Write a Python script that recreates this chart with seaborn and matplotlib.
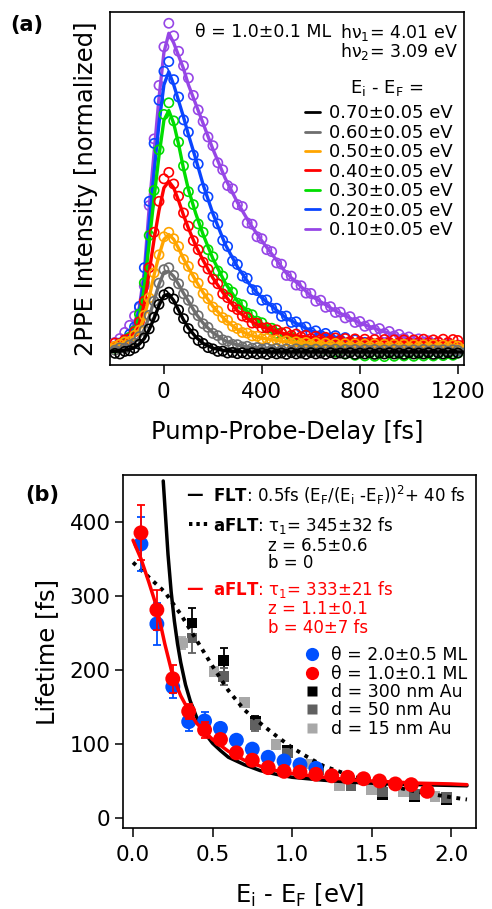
import matplotlib
matplotlib.use("Agg")
import matplotlib.pyplot as plt
from matplotlib.lines import Line2D
import seaborn as sns

# ======================= (a) 2PPE traces =======================
# pump-probe delays of the measured points (fs)
delay = list(range(-200, 1201, 20))
# delays at which the fit curves are drawn (fs)
delay_fit = [-220, -180, -140, -120, -100, -80, -60, -40, -20, 0, 20, 40, 60, 80,
             100, 130, 160, 200, 250, 300, 350, 400, 500, 600, 700, 800, 900,
             1000, 1100, 1225]

# measured intensities (normalized), one list per intermediate state energy
pts_010 = [0.030, 0.042, 0.061, 0.083, 0.112, 0.138, 0.205, 0.455, 0.662, 0.828,
           0.948, 1.021, 0.982, 0.934, 0.889, 0.851, 0.797, 0.752, 0.716, 0.668,
           0.641, 0.588, 0.566, 0.517, 0.507, 0.458, 0.452, 0.401, 0.397, 0.358,
           0.352, 0.318, 0.312, 0.277, 0.273, 0.238, 0.236, 0.208, 0.206, 0.183,
           0.182, 0.158, 0.161, 0.139, 0.141, 0.123, 0.124, 0.106, 0.110, 0.092,
           0.095, 0.080, 0.084, 0.069, 0.073, 0.058, 0.064, 0.050, 0.055, 0.043,
           0.047, 0.035, 0.041, 0.031, 0.035, 0.026, 0.031, 0.022, 0.026, 0.019,
           0.022]
pts_020 = [0.018, 0.028, 0.033, 0.055, 0.078, 0.142, 0.262, 0.468, 0.648, 0.782,
           0.872, 0.902, 0.846, 0.792, 0.721, 0.683, 0.612, 0.584, 0.508, 0.482,
           0.421, 0.398, 0.347, 0.328, 0.283, 0.272, 0.236, 0.229, 0.194, 0.191,
           0.161, 0.162, 0.136, 0.136, 0.111, 0.112, 0.092, 0.094, 0.076, 0.078,
           0.061, 0.066, 0.052, 0.058, 0.044, 0.051, 0.038, 0.045, 0.032, 0.038,
           0.026, 0.030, 0.018, 0.025, 0.012, 0.022, 0.008, 0.016, 0.004, 0.014,
           0.002, 0.012, -0.002, 0.010, 0.001, 0.012, -0.003, 0.011, 0.002, 0.012,
           0.004]
pts_030 = [0.012, 0.022, 0.028, 0.046, 0.066, 0.118, 0.215, 0.362, 0.502, 0.628,
           0.738, 0.774, 0.718, 0.652, 0.578, 0.498, 0.458, 0.398, 0.372, 0.318,
           0.296, 0.252, 0.236, 0.198, 0.186, 0.152, 0.147, 0.121, 0.116, 0.096,
           0.091, 0.074, 0.074, 0.058, 0.060, 0.044, 0.046, 0.034, 0.036, 0.024,
           0.026, 0.014, 0.017, 0.006, 0.010, 0.000, 0.006, -0.006, 0.002, -0.010,
           -0.002, -0.012, -0.004, -0.013, -0.005, -0.014, -0.004, -0.013, -0.005, -0.012,
           -0.004, -0.013, -0.005, -0.012, -0.004, -0.012, -0.003, -0.011, -0.004, -0.010,
           -0.003]
pts_040 = [0.028, 0.026, 0.038, 0.042, 0.063, 0.094, 0.158, 0.262, 0.372, 0.468,
           0.538, 0.558, 0.522, 0.484, 0.432, 0.391, 0.346, 0.318, 0.279, 0.258,
           0.226, 0.212, 0.181, 0.169, 0.141, 0.132, 0.112, 0.108, 0.090, 0.090,
           0.075, 0.076, 0.066, 0.069, 0.059, 0.062, 0.052, 0.056, 0.047, 0.052,
           0.042, 0.049, 0.039, 0.046, 0.036, 0.044, 0.035, 0.042, 0.033, 0.041,
           0.032, 0.040, 0.031, 0.039, 0.030, 0.039, 0.030, 0.038, 0.030, 0.038,
           0.029, 0.038, 0.030, 0.040, 0.029, 0.038, 0.031, 0.040, 0.030, 0.039,
           0.036]
pts_050 = [0.018, 0.024, 0.032, 0.033, 0.052, 0.068, 0.114, 0.168, 0.246, 0.302,
           0.358, 0.372, 0.352, 0.328, 0.288, 0.266, 0.232, 0.214, 0.182, 0.166,
           0.140, 0.128, 0.107, 0.099, 0.080, 0.073, 0.061, 0.059, 0.050, 0.049,
           0.041, 0.042, 0.036, 0.038, 0.031, 0.035, 0.028, 0.032, 0.025, 0.030,
           0.023, 0.029, 0.021, 0.028, 0.020, 0.027, 0.019, 0.026, 0.018, 0.026,
           0.017, 0.025, 0.017, 0.025, 0.016, 0.024, 0.016, 0.024, 0.016, 0.024,
           0.015, 0.023, 0.016, 0.023, 0.015, 0.023, 0.015, 0.022, 0.016, 0.022,
           0.018]
pts_060 = [0.006, 0.013, 0.012, 0.022, 0.028, 0.048, 0.068, 0.114, 0.158, 0.214,
           0.256, 0.262, 0.238, 0.212, 0.181, 0.161, 0.131, 0.113, 0.088, 0.077,
           0.058, 0.051, 0.038, 0.034, 0.024, 0.023, 0.016, 0.018, 0.012, 0.014,
           0.009, 0.012, 0.007, 0.011, 0.006, 0.010, 0.005, 0.010, 0.004, 0.009,
           0.004, 0.009, 0.003, 0.008, 0.004, 0.009, 0.003, 0.008, 0.004, 0.008,
           0.003, 0.008, 0.004, 0.008, 0.003, 0.007, 0.003, 0.008, 0.004, 0.007,
           0.003, 0.007, 0.003, 0.008, 0.003, 0.007, 0.004, 0.007, 0.003, 0.007,
           0.005]
pts_070 = [-0.004, -0.006, 0.002, 0.004, 0.012, 0.024, 0.044, 0.072, 0.108, 0.148,
           0.178, 0.186, 0.165, 0.131, 0.104, 0.073, 0.056, 0.036, 0.027, 0.014,
           0.010, 0.002, 0.003, -0.003, -0.001, -0.005, -0.002, -0.006, -0.002, -0.006,
           -0.003, -0.007, -0.002, -0.006, -0.003, -0.007, -0.002, -0.006, -0.003, -0.007,
           -0.002, -0.006, -0.003, -0.007, -0.002, -0.006, -0.003, -0.006, -0.002, -0.007,
           -0.003, -0.006, -0.002, -0.007, -0.003, -0.006, -0.002, -0.006, -0.003, -0.007,
           -0.002, -0.006, -0.003, -0.006, -0.002, -0.007, -0.003, -0.006, -0.002, -0.006,
           -0.003]

# fitted curves
fit_010 = [0.02, 0.03, 0.06, 0.09, 0.14, 0.25, 0.45, 0.62, 0.79, 0.93, 0.99, 0.96, 0.92, 0.88,
           0.83, 0.77, 0.71, 0.63, 0.54, 0.465, 0.40, 0.345, 0.245, 0.175, 0.128, 0.09, 0.063,
           0.042, 0.03, 0.02]
fit_020 = [0.02, 0.025, 0.05, 0.08, 0.13, 0.23, 0.40, 0.56, 0.71, 0.83, 0.87, 0.83, 0.78, 0.73,
           0.675, 0.60, 0.52, 0.43, 0.335, 0.265, 0.21, 0.168, 0.105, 0.066, 0.046, 0.032, 0.018,
           0.012, 0.01, 0.008]
fit_030 = [0.015, 0.02, 0.04, 0.07, 0.11, 0.20, 0.34, 0.48, 0.61, 0.72, 0.75, 0.71, 0.645, 0.57,
           0.505, 0.43, 0.365, 0.29, 0.215, 0.158, 0.118, 0.088, 0.05, 0.028, 0.016, 0.01, 0.007,
           0.006, 0.006, 0.006]
fit_040 = [0.025, 0.03, 0.04, 0.06, 0.09, 0.15, 0.25, 0.35, 0.44, 0.51, 0.53, 0.51, 0.47, 0.425,
           0.385, 0.33, 0.285, 0.23, 0.175, 0.128, 0.098, 0.078, 0.055, 0.045, 0.04, 0.037, 0.035,
           0.033, 0.032, 0.031]
fit_050 = [0.02, 0.025, 0.035, 0.05, 0.07, 0.11, 0.17, 0.24, 0.30, 0.35, 0.365, 0.35, 0.322, 0.29,
           0.262, 0.222, 0.185, 0.142, 0.10, 0.07, 0.053, 0.043, 0.032, 0.027, 0.024, 0.022, 0.021,
           0.02, 0.02, 0.019]
fit_060 = [0.01, 0.012, 0.02, 0.03, 0.045, 0.07, 0.11, 0.16, 0.21, 0.248, 0.25, 0.235, 0.21, 0.183,
           0.158, 0.12, 0.09, 0.06, 0.035, 0.022, 0.015, 0.012, 0.009, 0.008, 0.007, 0.007, 0.006,
           0.006, 0.006, 0.006]
fit_070 = [0.002, 0.003, 0.008, 0.014, 0.025, 0.042, 0.07, 0.105, 0.145, 0.175, 0.18, 0.16, 0.13,
           0.10, 0.075, 0.047, 0.027, 0.012, 0.004, 0.001, 0.0, 0.0, 0.0, 0.0, 0.0, 0.0, 0.0,
           0.0, 0.0, 0.0]

labels_a = ["0.70±0.05 eV", "0.60±0.05 eV", "0.50±0.05 eV", "0.40±0.05 eV",
            "0.30±0.05 eV", "0.20±0.05 eV", "0.10±0.05 eV"]
colors_a = ["#000000", "#6e6e6e", "#ffa500", "#ff0000", "#00dd00", "#0a45ff", "#9646e6"]

# ======================= (b) lifetimes =======================
e_ml1 = [0.05, 0.15, 0.25, 0.35, 0.45, 0.55, 0.65, 0.75, 0.85, 0.95, 1.05, 1.15, 1.25, 1.35,
         1.45, 1.55, 1.65, 1.75, 1.85]
tau_ml1 = [385, 281, 188, 144, 119, 106, 88, 78, 68, 63, 62, 59, 57, 55, 53, 50, 46, 45, 36]
err_ml1 = [37, 27, 19, 10, 11, 5, 4, 4, 3, 3, 3, 3, 3, 3, 3, 3, 3, 3, 3]

e_ml2 = [0.05, 0.15, 0.25, 0.35, 0.45, 0.55, 0.65, 0.75, 0.85, 0.95, 1.05, 1.15]
tau_ml2 = [370, 262, 177, 130, 131, 121, 105, 93, 82, 77, 72, 67]
err_ml2 = [36, 28, 15, 12, 12, 5, 4, 4, 3, 3, 3, 3]

e_300 = [0.37, 0.57, 0.77, 0.97, 1.17, 1.37, 1.57, 1.77, 1.97]
tau_300 = [263, 213, 130, 92, 66, 47, 31, 29, 25]
err_300 = [21, 16, 8, 5, 4, 3, 3, 3, 3]
e_50 = [0.37, 0.57, 0.77, 0.97, 1.17, 1.37, 1.57, 1.77, 1.97]
tau_50 = [243, 191, 126, 88, 65, 44, 35, 32, 28]
err_50 = [20, 12, 8, 5, 4, 3, 3, 3, 3]
e_15 = [0.31, 0.51, 0.70, 0.90, 1.10, 1.30, 1.50, 1.70, 1.90]
tau_15 = [236, 198, 156, 99, 73, 44, 38, 35, 29]
err_15 = [8, 6, 5, 4, 3, 3, 3, 3, 3]

# FLT curve (solid black)
flt_e = [0.19, 0.20, 0.22, 0.24, 0.26, 0.28, 0.30, 0.33, 0.36, 0.40, 0.45, 0.50, 0.55, 0.60,
         0.70, 0.80, 0.90, 1.00, 1.20, 1.40, 1.60, 1.80, 2.00, 2.10]
flt_tau = [455, 422, 356, 305, 266, 235, 210, 180, 158, 136, 115, 101, 91, 82, 72, 64, 59, 55,
           51, 48, 46, 45, 44, 43.5]
# aFLT with b = 0 (dotted black)
aflt0_e = [0.0, 0.1, 0.2, 0.3, 0.4, 0.5, 0.6, 0.7, 0.8, 0.9, 1.0, 1.1, 1.2, 1.4, 1.6, 1.8,
           2.0, 2.1]
aflt0_tau = [345, 325, 305, 275, 240, 205, 172, 146, 128, 111, 95, 82, 70, 55, 44, 35, 28, 25]
# aFLT with b = 40 fs (solid red)
aflt40_e = [0.0, 0.05, 0.1, 0.15, 0.2, 0.25, 0.3, 0.35, 0.4, 0.5, 0.6, 0.7, 0.8, 0.9, 1.0,
            1.2, 1.4, 1.6, 1.8, 2.0, 2.1]
aflt40_tau = [375, 350, 318, 284, 235, 192, 165, 145, 128, 106, 90, 78, 70, 64, 60, 55, 51,
              49, 47, 46, 45]

blue_b = "#0050ff"
red_b = "#ff0000"
dgray_b = "#606060"
lgray_b = "#a8a8a8"

# ------------------------------------------------------------------
sns.set_style("ticks")
plt.rcParams["font.family"] = ["DejaVu Sans"]
plt.rcParams["mathtext.fontset"] = "dejavusans"
plt.rcParams["axes.linewidth"] = 1.2
plt.rcParams["axes.edgecolor"] = "black"
plt.rcParams["text.color"] = "black"
plt.rcParams["axes.labelcolor"] = "black"
plt.rcParams["xtick.color"] = "black"
plt.rcParams["ytick.color"] = "black"

fig = plt.figure(figsize=(4.92, 9.09), dpi=100)
ax_a = fig.add_axes([0.2236, 0.5985, 0.7195, 0.3883])
ax_b = fig.add_axes([0.25, 0.0891, 0.7175, 0.3883])

# ---- panel (a)
pts_all = [pts_070, pts_060, pts_050, pts_040, pts_030, pts_020, pts_010]
fit_all = [fit_070, fit_060, fit_050, fit_040, fit_030, fit_020, fit_010]
for i in range(6, -1, -1):
    z = 10 - i
    sns.scatterplot(x=delay, y=pts_all[i], ax=ax_a, s=44, marker="o",
                    facecolors="none", edgecolor=colors_a[i], linewidth=1.2,
                    zorder=z)
    sns.lineplot(x=delay_fit, y=fit_all[i], ax=ax_a, color=colors_a[i],
                 linewidth=2.4, estimator=None, sort=False, zorder=z + 0.5)

ax_a.set_xlim(-220, 1225)
ax_a.set_ylim(-0.04, 1.056)
ax_a.set_xticks([0, 400, 800, 1200])
ax_a.set_yticks([])
ax_a.tick_params(axis="x", direction="out", length=6.5, width=1.1, pad=6, labelsize=15.5)
ax_a.set_xlabel("Pump-Probe-Delay [fs]", fontsize=17.5)
ax_a.set_ylabel("2PPE Intensity [normalized]", fontsize=17.5)
ax_a.xaxis.set_label_coords(0.5, -0.155)
ax_a.yaxis.set_label_coords(-0.035, 0.5)

handles_a = [Line2D([], [], color=c, lw=2) for c in colors_a]
ax_a.legend(handles_a, labels_a, loc="upper left", bbox_to_anchor=(0.551, 0.738),
            frameon=False, fontsize=13, handlelength=0.85, handletextpad=0.45,
            labelspacing=0.08, borderpad=0, borderaxespad=0)
ax_a.text(0.782, 0.785, r"E$_{\rm i}$ - E$_{\rm F}$ =", transform=ax_a.transAxes,
          ha="center", va="center", fontsize=13)
ax_a.text(0.24, 0.943, "θ = 1.0±0.1 ML", transform=ax_a.transAxes,
          ha="left", va="center", fontsize=12.5)
ax_a.text(0.983, 0.943, r"hν$_{1}$= 4.01 eV", transform=ax_a.transAxes,
          ha="right", va="center", fontsize=12.5)
ax_a.text(0.983, 0.887, r"hν$_{2}$= 3.09 eV", transform=ax_a.transAxes,
          ha="right", va="center", fontsize=12.5)

# ---- panel (b)
for xs, ys, es, c in [(e_300, tau_300, err_300, "black"), (e_50, tau_50, err_50, dgray_b),
                      (e_15, tau_15, err_15, lgray_b)]:
    ax_b.errorbar(xs, ys, yerr=es, fmt="none", ecolor=c, elinewidth=1.3, capsize=3,
                  capthick=1.3, zorder=2)
sns.scatterplot(x=e_300, y=tau_300, ax=ax_b, marker="s", s=58, color="black",
                edgecolor="none", zorder=3)
sns.scatterplot(x=e_50, y=tau_50, ax=ax_b, marker="s", s=58, color=dgray_b,
                edgecolor="none", zorder=3)
sns.scatterplot(x=e_15, y=tau_15, ax=ax_b, marker="s", s=58, color=lgray_b,
                edgecolor="none", zorder=3)

sns.lineplot(x=flt_e, y=flt_tau, ax=ax_b, color="black", linewidth=2.5,
             estimator=None, sort=False, zorder=4)
sns.lineplot(x=aflt0_e, y=aflt0_tau, ax=ax_b, color="black", linewidth=2.8,
             linestyle=(0, (1.0, 1.4)), estimator=None, sort=False, zorder=4)

ax_b.errorbar(e_ml2, tau_ml2, yerr=err_ml2, fmt="none", ecolor=blue_b, elinewidth=1.3,
              capsize=3, capthick=1.3, zorder=5)
sns.scatterplot(x=e_ml2, y=tau_ml2, ax=ax_b, marker="o", s=115, color=blue_b,
                edgecolor="none", zorder=6)
ax_b.errorbar(e_ml1, tau_ml1, yerr=err_ml1, fmt="none", ecolor=red_b, elinewidth=1.3,
              capsize=3, capthick=1.3, zorder=7)
sns.scatterplot(x=e_ml1, y=tau_ml1, ax=ax_b, marker="o", s=115, color=red_b,
                edgecolor="none", zorder=8)
sns.lineplot(x=aflt40_e, y=aflt40_tau, ax=ax_b, color=red_b, linewidth=2.5,
             estimator=None, sort=False, zorder=9)

ax_b.set_xlim(-0.063, 2.157)
ax_b.set_ylim(-13.5, 463)
ax_b.set_xticks([0.0, 0.5, 1.0, 1.5, 2.0])
ax_b.set_xticklabels(["0.0", "0.5", "1.0", "1.5", "2.0"])
ax_b.set_yticks([0, 100, 200, 300, 400])
ax_b.tick_params(axis="x", direction="out", length=6.5, width=1.1, pad=6, labelsize=15.5)
ax_b.tick_params(axis="y", direction="out", length=6, width=1.1, pad=3, labelsize=15.5)
ax_b.set_xlabel(r"E$_{\rm i}$ - E$_{\rm F}$ [eV]", fontsize=17.5)
ax_b.set_ylabel("Lifetime [fs]", fontsize=17.5)
ax_b.xaxis.set_label_coords(0.5, -0.152)
ax_b.yaxis.set_label_coords(-0.18, 0.5)

fs_b = 12
tb = ax_b.transAxes
ax_b.text(0.18, 0.943, "—", transform=tb, ha="left", va="center", fontsize=12,
          fontweight="bold", color="black")
ax_b.text(0.255, 0.943, r"$\mathbf{FLT}$: 0.5fs (E$_{\rm F}$/(E$_{\rm i}$ -E$_{\rm F}$))$^{2}$+ 40 fs",
          transform=tb, ha="left", va="center", fontsize=fs_b)
ax_b.text(0.18, 0.858, "···", transform=tb, ha="left", va="center", fontsize=14,
          fontweight="bold", color="black")
ax_b.text(0.255, 0.858, r"$\mathbf{aFLT}$: τ$_{1}$= 345±32 fs", transform=tb,
          ha="left", va="center", fontsize=fs_b)
ax_b.text(0.41, 0.80, "z = 6.5±0.6", transform=tb, ha="left", va="center", fontsize=fs_b)
ax_b.text(0.41, 0.75, "b = 0", transform=tb, ha="left", va="center", fontsize=fs_b)
ax_b.text(0.18, 0.677, "—", transform=tb, ha="left", va="center", fontsize=12,
          fontweight="bold", color=red_b)
ax_b.text(0.255, 0.677, r"$\mathbf{aFLT}$: τ$_{1}$= 333±21 fs", transform=tb,
          ha="left", va="center", fontsize=fs_b, color=red_b)
ax_b.text(0.41, 0.62, "z = 1.1±0.1", transform=tb, ha="left", va="center", fontsize=fs_b,
          color=red_b)
ax_b.text(0.41, 0.567, "b = 40±7 fs", transform=tb, ha="left", va="center", fontsize=fs_b,
          color=red_b)

labels_b = ["θ = 2.0±0.5 ML", "θ = 1.0±0.1 ML", "d = 300 nm Au",
            "d = 50 nm Au", "d = 15 nm Au"]
handles_b = [Line2D([], [], ls="none", marker="o", ms=9.5, color=blue_b, mec="none"),
             Line2D([], [], ls="none", marker="o", ms=9.5, color=red_b, mec="none"),
             Line2D([], [], ls="none", marker="s", ms=6.5, color="black", mec="none"),
             Line2D([], [], ls="none", marker="s", ms=6.5, color=dgray_b, mec="none"),
             Line2D([], [], ls="none", marker="s", ms=6.5, color=lgray_b, mec="none")]
ax_b.legend(handles_b, labels_b, loc="upper left", bbox_to_anchor=(0.51, 0.515),
            frameon=False, fontsize=12.5, handlelength=1.0, handletextpad=0.6,
            labelspacing=0.02, borderpad=0, borderaxespad=0)

fig.text(0.02, 0.9725, "(a)", fontsize=15, fontweight="bold", ha="left", va="center")
fig.text(0.051, 0.4554, "(b)", fontsize=15, fontweight="bold", ha="left", va="center")

fig.savefig("out.png", dpi=100)
